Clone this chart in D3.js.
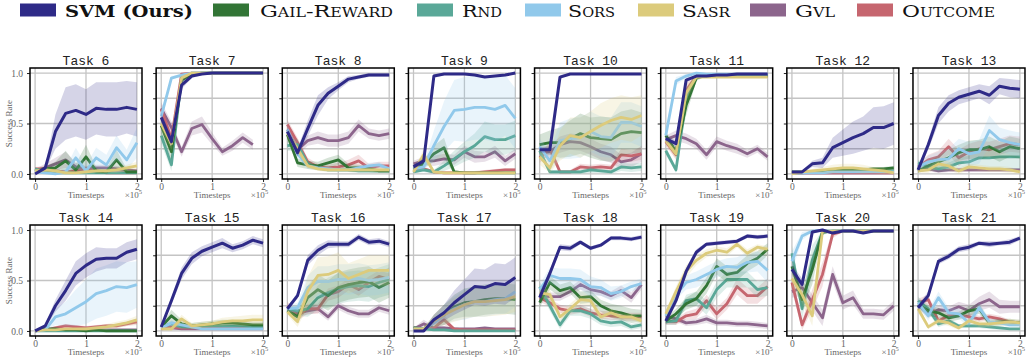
<!DOCTYPE html>
<html><head><meta charset="utf-8">
<script src="https://cdn.jsdelivr.net/npm/d3@7"></script>
<style>body{margin:0;background:#fff}svg{display:block}</style>
</head><body><svg id="c" width="1026" height="362"></svg>
<script>
const tasks = ["Task 6","Task 7","Task 8","Task 9","Task 10","Task 11","Task 12","Task 13",
               "Task 14","Task 15","Task 16","Task 17","Task 18","Task 19","Task 20","Task 21"];
const steps = [0,0.2,0.4,0.6,0.8,1.0,1.2,1.4,1.6,1.8,2.0];
const methods = ["SVM (Ours)","Gail-Reward","Rnd","Sors","Sasr","Gvl","Outcome"];
const xTicks = [0,1,2];
const yTicksFirst = [0,0.5,1];
const yTicksOther = [0,0.25,0.5,0.75,1];

const svmMean = [
[0.00,0.06,0.42,0.60,0.63,0.59,0.65,0.64,0.64,0.66,0.64],
[0.56,0.32,0.88,0.97,0.99,1.00,1.00,1.00,1.00,1.00,1.00],
[0.42,0.21,0.45,0.68,0.80,0.87,0.94,0.96,0.98,0.98,0.98],
[0.07,0.13,0.97,0.99,0.99,0.99,0.98,0.96,0.97,0.98,1.00],
[0.24,0.24,0.96,0.99,0.99,0.99,0.99,0.99,0.99,0.99,0.99],
[0.35,0.30,0.93,0.97,0.97,0.98,0.98,0.99,0.99,0.99,0.99],
[0.02,0.02,0.10,0.11,0.26,0.31,0.36,0.40,0.46,0.46,0.50],
[0.04,0.29,0.58,0.70,0.76,0.79,0.82,0.78,0.87,0.85,0.84],
[0.00,0.05,0.25,0.40,0.57,0.65,0.71,0.72,0.72,0.78,0.81],
[0.04,0.30,0.57,0.72,0.79,0.83,0.87,0.82,0.85,0.90,0.87],
[0.22,0.35,0.70,0.80,0.86,0.86,0.86,0.93,0.88,0.89,0.86],
[0.00,0.00,0.11,0.18,0.28,0.36,0.44,0.43,0.47,0.46,0.53],
[0.33,0.57,0.83,0.82,0.88,0.82,0.85,0.92,0.92,0.91,0.93],
[0.10,0.30,0.59,0.78,0.86,0.87,0.88,0.89,0.94,0.93,0.94],
[0.61,0.46,0.98,1.00,0.97,0.99,0.99,0.97,0.99,0.99,0.99],
[0.23,0.35,0.69,0.74,0.81,0.83,0.87,0.86,0.87,0.88,0.92]];
const svmBand = [
[0,0.02,0.17,0.26,0.26,0.25,0.26,0.27,0.27,0.26,0.27],
[0.05,0.05,0.04,0.02,0.01,0.01,0.01,0.01,0.01,0.01,0.01],
[0.04,0.04,0.08,0.10,0.06,0.04,0.03,0.02,0.02,0.02,0.02],
[0.02,0.03,0.02,0.01,0.01,0.01,0.01,0.01,0.01,0.01,0.01],
[0.03,0.03,0.02,0.01,0.01,0.01,0.01,0.01,0.01,0.01,0.01],
[0.03,0.03,0.02,0.01,0.01,0.01,0.01,0.01,0.01,0.01,0.01],
[0.01,0.01,0.03,0.05,0.10,0.13,0.16,0.17,0.20,0.21,0.21],
[0.02,0.05,0.08,0.08,0.07,0.07,0.07,0.09,0.08,0.09,0.09],
[0.01,0.02,0.06,0.10,0.12,0.12,0.12,0.10,0.10,0.10,0.10],
[0.01,0.04,0.06,0.06,0.05,0.05,0.05,0.04,0.04,0.04,0.04],
[0.02,0.03,0.05,0.05,0.04,0.03,0.03,0.03,0.03,0.03,0.03],
[0.01,0.01,0.05,0.08,0.12,0.15,0.18,0.18,0.20,0.20,0.20],
[0.05,0.04,0.03,0.03,0.02,0.02,0.02,0.02,0.02,0.02,0.02],
[0.03,0.04,0.04,0.03,0.02,0.02,0.02,0.02,0.02,0.02,0.02],
[0.05,0.06,0.02,0.01,0.01,0.01,0.01,0.01,0.01,0.01,0.01],
[0.03,0.04,0.03,0.03,0.03,0.03,0.02,0.03,0.02,0.03,0.02]];

const gailMean = [
[0.02,0.05,0.06,0.13,0.04,0.17,0.03,0.02,0.14,0.02,0.02],
[0.48,0.22,0.93,0.99,1.00,1.00,1.00,1.00,1.00,1.00,1.00],
[0.39,0.11,0.09,0.08,0.11,0.14,0.06,0.06,0.05,0.03,0.03],
[0.05,0.10,0.20,0.26,0.02,0.01,0.01,0.01,0.01,0.01,0.01],
[0.29,0.31,0.31,0.35,0.40,0.36,0.35,0.34,0.40,0.42,0.41],
[0.38,0.22,0.68,0.95,0.98,0.98,0.98,0.98,0.97,0.97,0.97],
[0.02,0.02,0.02,0.03,0.03,0.04,0.04,0.04,0.05,0.05,0.06],
[0.03,0.08,0.12,0.16,0.21,0.24,0.24,0.27,0.22,0.27,0.25],
[0.00,0.02,0.02,0.01,0.01,0.00,0.01,0.00,0.00,0.00,0.00],
[0.04,0.15,0.07,0.05,0.06,0.07,0.08,0.08,0.07,0.06,0.06],
[0.20,0.14,0.33,0.41,0.35,0.43,0.46,0.48,0.49,0.43,0.48],
[0.03,0.02,0.10,0.16,0.24,0.28,0.29,0.31,0.32,0.32,0.31],
[0.28,0.48,0.40,0.43,0.33,0.34,0.25,0.20,0.18,0.15,0.15],
[0.10,0.17,0.27,0.32,0.45,0.64,0.56,0.58,0.67,0.72,0.81],
[0.64,0.31,0.61,0.98,0.99,0.99,0.99,0.99,0.99,0.99,0.99],
[0.26,0.20,0.18,0.13,0.15,0.20,0.22,0.08,0.09,0.09,0.08]];
const gailBand = [
[0.02,0.03,0.06,0.10,0.06,0.12,0.04,0.03,0.10,0.03,0.02],
[0.08,0.08,0.05,0.01,0.01,0.01,0.01,0.01,0.01,0.01,0.01],
[0.05,0.04,0.04,0.04,0.05,0.05,0.04,0.03,0.03,0.02,0.02],
[0.02,0.04,0.08,0.10,0.02,0.01,0.01,0.01,0.01,0.01,0.01],
[0.10,0.12,0.15,0.18,0.20,0.20,0.22,0.22,0.22,0.22,0.20],
[0.04,0.05,0.10,0.03,0.01,0.01,0.01,0.01,0.01,0.01,0.01],
[0.01,0.01,0.01,0.02,0.02,0.02,0.02,0.02,0.02,0.02,0.02],
[0.02,0.04,0.06,0.08,0.08,0.09,0.10,0.10,0.10,0.10,0.10],
[0.00,0.01,0.01,0.01,0.01,0.01,0.01,0.00,0.00,0.00,0.00],
[0.01,0.06,0.04,0.03,0.03,0.03,0.03,0.03,0.03,0.03,0.03],
[0.03,0.05,0.12,0.15,0.15,0.15,0.15,0.15,0.15,0.15,0.15],
[0.01,0.01,0.06,0.10,0.12,0.14,0.15,0.15,0.15,0.15,0.15],
[0.05,0.07,0.06,0.06,0.06,0.06,0.06,0.07,0.07,0.07,0.06],
[0.03,0.05,0.06,0.07,0.08,0.08,0.08,0.08,0.08,0.07,0.06],
[0.08,0.10,0.15,0.03,0.01,0.01,0.01,0.01,0.01,0.01,0.01],
[0.04,0.05,0.05,0.04,0.04,0.05,0.05,0.03,0.03,0.03,0.03]];

const rndMean = [
[0.05,0.02,0.01,0.01,0.01,0.01,0.01,0.01,0.01,0.01,0.01],
[0.38,0.09,0.95,1.00,1.00,1.00,1.00,1.00,1.00,1.00,1.00],
[0.28,0.29,0.10,0.06,0.04,0.04,0.04,0.03,0.03,0.03,0.03],
[0.02,0.04,0.02,0.08,0.15,0.22,0.28,0.37,0.34,0.34,0.38],
[0.23,0.02,0.02,0.02,0.02,0.04,0.03,0.02,0.07,0.06,0.07],
[0.23,0.04,0.74,0.97,0.98,0.98,0.98,0.98,0.98,0.98,0.98],
[0.01,0.01,0.02,0.02,0.03,0.03,0.03,0.03,0.03,0.03,0.03],
[0.11,0.07,0.05,0.07,0.11,0.12,0.16,0.16,0.17,0.17,0.17],
[0.00,0.00,0.00,0.00,0.00,0.00,0.00,0.00,0.00,0.00,0.00],
[0.04,0.07,0.04,0.04,0.05,0.05,0.05,0.05,0.05,0.04,0.04],
[0.22,0.20,0.22,0.33,0.38,0.42,0.44,0.45,0.44,0.48,0.51],
[0.03,0.02,0.01,0.01,0.00,0.00,0.00,0.00,0.00,0.00,0.00],
[0.44,0.25,0.06,0.20,0.20,0.17,0.10,0.08,0.09,0.04,0.06],
[0.09,0.10,0.30,0.32,0.23,0.41,0.51,0.51,0.51,0.41,0.43],
[0.77,0.22,0.70,0.98,0.99,0.99,0.99,0.99,0.99,0.99,0.99],
[0.30,0.22,0.07,0.10,0.05,0.05,0.05,0.04,0.03,0.02,0.02]];
const rndBand = [
0.01,
[0.08,0.06,0.04,0.01,0.01,0.01,0.01,0.01,0.01,0.01,0.01],
[0.05,0.06,0.03,0.02,0.02,0.02,0.02,0.02,0.02,0.02,0.02],
[0.01,0.02,0.02,0.05,0.08,0.10,0.12,0.15,0.15,0.15,0.15],
[0.05,0.02,0.02,0.02,0.02,0.03,0.02,0.02,0.04,0.04,0.04],
[0.04,0.03,0.10,0.03,0.01,0.01,0.01,0.01,0.01,0.01,0.01],
0.01,
[0.03,0.03,0.03,0.04,0.05,0.06,0.08,0.10,0.12,0.12,0.12],
0.005,
[0.01,0.03,0.02,0.02,0.02,0.02,0.02,0.02,0.02,0.02,0.02],
[0.03,0.05,0.08,0.12,0.15,0.15,0.15,0.15,0.15,0.15,0.15],
0.01,
[0.05,0.05,0.04,0.05,0.05,0.05,0.04,0.04,0.04,0.03,0.03],
[0.03,0.04,0.06,0.07,0.07,0.08,0.08,0.08,0.08,0.08,0.08],
[0.08,0.10,0.15,0.02,0.01,0.01,0.01,0.01,0.01,0.01,0.01],
[0.04,0.04,0.03,0.03,0.02,0.02,0.02,0.02,0.02,0.01,0.01]];

const sorsMean = [
[0.02,0.01,0.00,0.02,0.16,0.03,0.16,0.09,0.26,0.14,0.31],
[0.57,0.95,0.98,1.00,1.00,1.00,1.00,1.00,1.00,1.00,1.00],
[0.44,0.20,0.08,0.06,0.05,0.04,0.04,0.06,0.08,0.09,0.05],
[0.05,0.07,0.28,0.47,0.63,0.64,0.66,0.66,0.64,0.68,0.55],
[0.27,0.13,0.33,0.35,0.36,0.42,0.37,0.36,0.51,0.51,0.47],
[0.38,0.92,0.97,1.00,0.99,0.99,0.99,0.99,0.99,0.99,0.99],
[0.01,0.01,0.01,0.01,0.02,0.02,0.02,0.02,0.02,0.02,0.02],
[0.07,0.12,0.14,0.15,0.25,0.20,0.22,0.43,0.34,0.31,0.29],
[0.00,0.01,0.14,0.17,0.23,0.29,0.37,0.40,0.44,0.43,0.46],
[0.03,0.08,0.06,0.04,0.02,0.02,0.02,0.02,0.02,0.02,0.02],
[0.22,0.23,0.43,0.49,0.49,0.51,0.51,0.52,0.50,0.51,0.53],
[0.02,0.02,0.08,0.16,0.22,0.26,0.29,0.29,0.31,0.32,0.39],
[0.41,0.55,0.52,0.52,0.51,0.44,0.43,0.37,0.39,0.44,0.47],
[0.15,0.36,0.48,0.51,0.56,0.61,0.64,0.63,0.68,0.69,0.60],
[0.69,0.94,0.99,1.00,0.99,0.99,0.99,0.99,0.99,0.99,0.99],
[0.28,0.15,0.33,0.18,0.17,0.08,0.23,0.09,0.08,0.06,0.06]];
const sorsBand = [
[0.02,0.01,0.02,0.04,0.10,0.06,0.10,0.10,0.12,0.10,0.15],
[0.05,0.02,0.01,0.01,0.01,0.01,0.01,0.01,0.01,0.01,0.01],
[0.05,0.05,0.03,0.02,0.02,0.02,0.02,0.02,0.03,0.03,0.02],
[0.02,0.03,0.15,0.25,0.30,0.32,0.32,0.32,0.32,0.30,0.30],
[0.08,0.10,0.18,0.20,0.20,0.20,0.20,0.20,0.20,0.20,0.20],
[0.05,0.04,0.02,0.01,0.01,0.01,0.01,0.01,0.01,0.01,0.01],
0.01,
[0.03,0.06,0.08,0.10,0.10,0.12,0.12,0.15,0.12,0.12,0.12],
[0.00,0.01,0.08,0.12,0.18,0.22,0.25,0.25,0.25,0.25,0.23],
[0.01,0.03,0.02,0.02,0.01,0.01,0.01,0.01,0.01,0.01,0.01],
[0.03,0.05,0.12,0.15,0.15,0.15,0.15,0.15,0.15,0.15,0.15],
[0.01,0.01,0.05,0.10,0.12,0.15,0.15,0.15,0.15,0.15,0.15],
[0.05,0.08,0.10,0.10,0.10,0.10,0.08,0.07,0.06,0.05,0.05],
[0.03,0.05,0.07,0.08,0.08,0.08,0.08,0.10,0.10,0.10,0.12],
[0.10,0.04,0.01,0.01,0.01,0.01,0.01,0.01,0.01,0.01,0.01],
[0.04,0.05,0.06,0.05,0.05,0.04,0.05,0.03,0.03,0.02,0.02]];

const sasrMean = [
[0.03,0.04,0.03,0.01,0.01,0.02,0.03,0.03,0.04,0.06,0.08],
[0.50,0.30,0.95,1.00,1.00,1.00,1.00,1.00,1.00,1.00,1.00],
[0.40,0.25,0.08,0.05,0.04,0.04,0.04,0.04,0.04,0.04,0.04],
[0.02,0.19,0.02,0.01,0.01,0.01,0.01,0.01,0.01,0.01,0.01],
[0.17,0.06,0.28,0.38,0.36,0.42,0.48,0.53,0.56,0.54,0.58],
[0.33,0.20,0.80,0.96,0.96,0.96,0.96,0.96,0.96,0.96,0.96],
[0.00,0.02,0.03,0.04,0.05,0.06,0.06,0.05,0.04,0.03,0.01],
[0.03,0.04,0.10,0.08,0.03,0.07,0.06,0.05,0.05,0.04,0.02],
[0.00,0.01,0.01,0.02,0.02,0.02,0.03,0.04,0.06,0.08,0.11],
[0.02,0.02,0.12,0.05,0.06,0.07,0.09,0.10,0.10,0.11,0.11],
[0.19,0.09,0.39,0.55,0.56,0.60,0.52,0.56,0.60,0.60,0.60],
[0.02,0.02,0.10,0.16,0.21,0.26,0.29,0.29,0.30,0.31,0.34],
[0.38,0.36,0.14,0.22,0.31,0.30,0.14,0.18,0.14,0.14,0.10],
[0.17,0.39,0.59,0.70,0.77,0.80,0.78,0.86,0.77,0.83,0.81],
[0.52,0.36,0.15,0.99,0.99,0.99,0.99,0.99,0.99,0.99,0.99],
[0.22,0.04,0.10,0.08,0.03,0.10,0.07,0.07,0.08,0.09,0.08]];
const sasrBand = [
[0.02,0.02,0.02,0.01,0.01,0.02,0.02,0.02,0.03,0.03,0.04],
[0.06,0.06,0.03,0.01,0.01,0.01,0.01,0.01,0.01,0.01,0.01],
[0.04,0.04,0.02,0.02,0.02,0.02,0.02,0.02,0.02,0.02,0.02],
[0.01,0.06,0.01,0.01,0.01,0.01,0.01,0.01,0.01,0.01,0.01],
[0.08,0.05,0.15,0.18,0.20,0.20,0.22,0.22,0.22,0.22,0.20],
[0.04,0.05,0.08,0.02,0.01,0.01,0.01,0.01,0.01,0.01,0.01],
[0.00,0.01,0.02,0.03,0.04,0.04,0.04,0.04,0.03,0.03,0.02],
[0.02,0.03,0.04,0.04,0.03,0.03,0.03,0.03,0.03,0.03,0.02],
[0.00,0.01,0.01,0.01,0.01,0.02,0.02,0.03,0.03,0.03,0.04],
[0.01,0.02,0.04,0.03,0.03,0.03,0.04,0.04,0.05,0.05,0.05],
[0.03,0.05,0.15,0.18,0.18,0.18,0.15,0.15,0.15,0.15,0.15],
[0.01,0.01,0.06,0.10,0.12,0.14,0.15,0.15,0.15,0.15,0.15],
[0.04,0.05,0.04,0.05,0.05,0.05,0.04,0.04,0.03,0.03,0.03],
[0.03,0.05,0.06,0.05,0.04,0.04,0.04,0.03,0.04,0.03,0.03],
[0.08,0.08,0.10,0.01,0.01,0.01,0.01,0.01,0.01,0.01,0.01],
[0.04,0.02,0.03,0.03,0.02,0.03,0.03,0.03,0.03,0.03,0.03]];

const gvlMean = [
[0.03,0.06,0.10,0.14,0.07,0.05,0.06,0.06,0.05,0.04,0.03],
[0.65,0.46,0.22,0.45,0.49,0.35,0.22,0.28,0.36,0.29,null],
[0.44,0.24,0.33,0.36,0.33,0.33,0.36,0.48,0.40,0.38,0.40],
[0.10,0.13,0.13,0.15,0.14,0.22,0.17,0.17,0.22,0.13,0.20],
[0.21,0.22,0.29,0.32,0.31,0.27,0.22,0.19,0.12,0.14,0.20],
[0.34,0.38,0.35,0.30,0.19,0.32,0.28,0.25,0.20,0.25,0.17],
[0.01,0.01,0.01,0.01,0.01,0.01,0.01,0.01,0.01,0.01,0.01],
[0.04,0.05,0.03,0.04,0.04,0.04,0.04,0.04,0.04,0.04,0.04],
[0.00,0.01,0.01,0.01,0.01,0.01,0.01,0.01,0.01,0.01,0.01],
[0.02,0.03,0.02,0.02,0.02,0.02,0.02,0.02,0.02,0.02,0.02],
[0.20,0.18,0.20,0.22,0.14,0.25,0.20,0.17,0.17,0.23,0.20],
[0.02,0.07,0.03,0.03,0.02,0.02,0.02,0.03,0.02,0.02,0.02],
[0.35,0.34,0.34,0.39,0.46,0.41,0.39,0.35,0.40,0.33,0.46],
[0.15,0.12,0.08,0.09,0.12,0.08,0.08,0.07,0.07,0.06,0.05],
[0.39,0.43,0.28,0.13,0.56,0.28,0.33,0.17,0.17,0.16,0.25],
[0.26,0.17,0.21,0.20,0.24,0.20,0.27,0.31,0.24,0.24,0.24]];
const gvlBand = [
[0.02,0.04,0.06,0.08,0.04,0.03,0.03,0.03,0.03,0.02,0.02],
[0.06,0.06,0.05,0.07,0.08,0.06,0.04,0.05,0.05,0.05,null],
[0.05,0.05,0.05,0.06,0.06,0.06,0.06,0.06,0.05,0.05,0.05],
[0.03,0.04,0.05,0.05,0.05,0.06,0.06,0.05,0.06,0.05,0.05],
[0.05,0.06,0.08,0.08,0.08,0.08,0.08,0.08,0.07,0.07,0.08],
[0.04,0.05,0.05,0.05,0.05,0.05,0.05,0.05,0.04,0.04,0.04],
0.01,
0.02,
0.01,
0.01,
[0.03,0.03,0.04,0.04,0.04,0.04,0.04,0.04,0.04,0.04,0.04],
[0.01,0.04,0.02,0.02,0.01,0.01,0.01,0.01,0.01,0.01,0.01],
[0.04,0.04,0.04,0.04,0.05,0.04,0.04,0.04,0.05,0.05,0.05],
[0.03,0.03,0.03,0.03,0.04,0.03,0.03,0.03,0.03,0.03,0.03],
[0.06,0.08,0.08,0.08,0.08,0.07,0.07,0.05,0.05,0.05,0.05],
[0.04,0.04,0.04,0.04,0.05,0.06,0.07,0.08,0.07,0.06,0.06]];

const outcomeMean = [
[0.05,0.05,0.03,0.02,0.03,0.05,0.03,0.01,0.01,0.01,0.01],
[0.64,0.35,0.99,1.00,1.00,1.00,1.00,1.00,1.00,1.00,1.00],
[0.49,0.31,0.12,0.07,0.06,0.07,0.09,0.13,0.06,0.08,0.08],
[0.05,0.05,0.02,0.01,0.01,0.01,0.01,0.02,0.03,0.04,0.04],
[0.16,0.25,0.02,0.02,0.07,0.06,0.07,0.06,0.19,0.18,0.20],
[0.32,0.19,0.83,0.97,0.97,0.97,0.97,0.97,0.97,0.97,0.97],
[0.01,0.01,0.01,0.01,0.01,0.01,0.01,0.01,0.01,0.01,0.01],
[0.07,0.14,0.17,0.27,0.16,0.22,0.25,0.24,0.27,0.30,0.29],
[0.00,0.01,0.03,0.05,0.04,0.03,0.04,0.05,0.05,0.07,0.09],
[0.04,0.04,0.03,0.03,0.04,0.03,0.04,0.03,0.03,0.03,0.03],
[0.25,0.15,0.22,0.22,0.36,0.39,0.46,0.41,0.48,0.54,0.51],
[0.03,0.02,0.03,0.11,0.02,0.01,0.01,0.01,0.01,0.01,0.01],
[0.33,0.28,0.22,0.20,0.22,0.18,0.16,0.15,0.14,0.14,0.14],
[0.09,0.09,0.15,0.17,0.30,0.17,0.27,0.44,0.35,0.35,0.44],
[0.48,0.06,0.31,0.56,0.96,0.99,0.99,0.99,0.99,0.99,0.99],
[0.28,0.31,0.10,0.15,0.16,0.14,0.12,0.14,0.12,0.09,0.08]];
const outcomeBand = [
[0.02,0.03,0.02,0.02,0.02,0.03,0.02,0.01,0.01,0.01,0.01],
[0.05,0.06,0.01,0.01,0.01,0.01,0.01,0.01,0.01,0.01,0.01],
[0.05,0.05,0.04,0.03,0.03,0.04,0.05,0.06,0.04,0.04,0.04],
0.02,
[0.05,0.06,0.02,0.02,0.03,0.03,0.03,0.03,0.06,0.06,0.06],
[0.04,0.05,0.08,0.02,0.01,0.01,0.01,0.01,0.01,0.01,0.01],
0.01,
[0.03,0.05,0.06,0.08,0.08,0.08,0.08,0.08,0.08,0.08,0.08],
[0.00,0.01,0.02,0.02,0.02,0.02,0.02,0.02,0.02,0.02,0.03],
0.02,
[0.04,0.05,0.05,0.05,0.06,0.06,0.06,0.06,0.06,0.06,0.06],
[0.01,0.01,0.01,0.05,0.01,0.01,0.01,0.01,0.01,0.01,0.01],
0.04,
[0.03,0.03,0.04,0.05,0.06,0.06,0.06,0.08,0.08,0.08,0.08],
[0.08,0.05,0.10,0.12,0.04,0.01,0.01,0.01,0.01,0.01,0.01],
[0.04,0.05,0.03,0.03,0.03,0.03,0.03,0.03,0.03,0.02,0.02]];

// ---- styles (kept separate from data) ----
const colors = ["#2e2a87","#327536","#5aa898","#91c9eb","#dccb7c","#8c658c","#c6666f"];
const means = [svmMean,gailMean,rndMean,sorsMean,sasrMean,gvlMean,outcomeMean];
const bands = [svmBand,gailBand,rndBand,sorsBand,sasrBand,gvlBand,outcomeBand];
const drawOrder = [5,6,2,1,3,4,0];

const svg = d3.select("#c");
const W = 112, H = 111, colStep = 126.14, left0 = 30, rowTops = [68, 225];
const serif = "'Liberation Serif','DejaVu Serif',serif";

// legend
const legendLayout = [[20,65,128],[213,260,133],[417,462,40],[525,568,47],[638,682,48],[750,795,40],[857,902,93]];
const leg = svg.append("g");
methods.forEach((m,i)=>{
  const [sx,tx,tw] = legendLayout[i];
  leg.append("rect").attr("x",sx).attr("y",3.5).attr("width",36).attr("height",13).attr("fill",colors[i]);
  const t = leg.append("text").attr("x",tx).attr("y",17)
    .attr("font-family","'DejaVu Serif',serif").attr("font-size",17).attr("fill","#111")
    .attr("textLength",tw).attr("lengthAdjust","spacingAndGlyphs").text(m);
  if(i===0) t.attr("font-weight","bold"); else t.style("font-variant","small-caps");
});

tasks.forEach((title,i)=>{
  const col = i%8, row = Math.floor(i/8);
  const px = left0 + col*colStep, py = rowTops[row];
  const x = d3.scaleLinear().domain([-0.1,2.1]).range([px,px+W]);
  const y = d3.scaleLinear().domain([-0.05,1.05]).range([py+H,py]);
  const yt = col===0 ? yTicksFirst : yTicksOther;
  const g = svg.append("g");
  const cid = "clip"+i;
  g.append("clipPath").attr("id",cid).append("rect").attr("x",px).attr("y",py).attr("width",W).attr("height",H);

  // grid
  g.append("g").selectAll("line").data(xTicks).join("line")
    .attr("x1",d=>x(d)).attr("x2",d=>x(d)).attr("y1",py).attr("y2",py+H)
    .attr("stroke","#c4c4c4").attr("stroke-width",1.3);
  g.append("g").selectAll("line").data(yt).join("line")
    .attr("y1",d=>y(d)).attr("y2",d=>y(d)).attr("x1",px).attr("x2",px+W)
    .attr("stroke","#c4c4c4").attr("stroke-width",1.3);

  const plot = g.append("g").attr("clip-path",`url(#${cid})`);
  drawOrder.forEach(k=>{
    const mean = means[k][i];
    let b = bands[k][i];
    if(!Array.isArray(b)) b = steps.map(()=>b);
    const pts = steps.map((s,j)=>({x:s,m:mean[j],b:b[j]})).filter(d=>d.m!=null);
    const area = d3.area().x(d=>x(d.x))
      .y0(d=>y(Math.max(0,d.m-(d.b||0)))).y1(d=>y(Math.min(1,d.m+(d.b||0))));
    plot.append("path").datum(pts).attr("d",area).attr("fill",colors[k]).attr("fill-opacity",0.2);
    const line = d3.line().x(d=>x(d.x)).y(d=>y(d.m));
    plot.append("path").datum(pts).attr("d",line).attr("fill","none")
      .attr("stroke",colors[k]).attr("stroke-width",k===0?3:2.8).attr("stroke-linejoin","round");
  });

  // axes
  const ya = d3.axisLeft(y).tickValues(yt).tickSize(3).tickSizeOuter(0)
    .tickFormat(col===0 ? d3.format(".1f") : ()=>"");
  const yg = g.append("g").attr("transform",`translate(${px},0)`).call(ya);
  yg.select(".domain").remove();
  yg.selectAll("text").attr("font-family",serif).attr("font-size",9.5).attr("fill","#666").attr("dx",-1);
  yg.selectAll("line").attr("stroke","#222");
  const xa = d3.axisBottom(x).tickValues(xTicks).tickSize(3).tickSizeOuter(0).tickFormat(d3.format("d"));
  const xg = g.append("g").attr("transform",`translate(0,${py+H})`).call(xa);
  xg.select(".domain").remove();
  xg.selectAll("text").attr("font-family",serif).attr("font-size",9.5).attr("fill","#666").attr("dy","0.5em");
  xg.selectAll("line").attr("stroke","#222");

  // frame
  g.append("rect").attr("x",px).attr("y",py).attr("width",W).attr("height",H)
    .attr("fill","none").attr("stroke","#000").attr("stroke-width",1.5);

  // title
  g.append("text").attr("x",px+W/2).attr("y",py-3).attr("text-anchor","middle")
    .attr("font-family","'Liberation Mono','DejaVu Sans Mono',monospace").attr("font-size",13)
    .attr("fill","#222").text(title);

  // x label
  g.append("text").attr("x",px+W/2).attr("y",py+H+19).attr("text-anchor","middle")
    .attr("font-family",serif).attr("font-size",9).attr("fill","#666").text("Timesteps");
  const ex = g.append("text").attr("x",px+W).attr("y",py+H+19).attr("text-anchor","end")
    .attr("font-family",serif).attr("font-size",9).attr("fill","#666");
  ex.append("tspan").text("×10");
  ex.append("tspan").attr("font-size",6.5).attr("dy",-4).text("5");

  if(col===0){
    g.append("text").attr("transform",`translate(${12},${py+H/2}) rotate(-90)`)
      .attr("text-anchor","middle").attr("font-family",serif).attr("font-size",9)
      .attr("fill","#666").text("Success Rate");
  }
});
</script>
</body></html>
